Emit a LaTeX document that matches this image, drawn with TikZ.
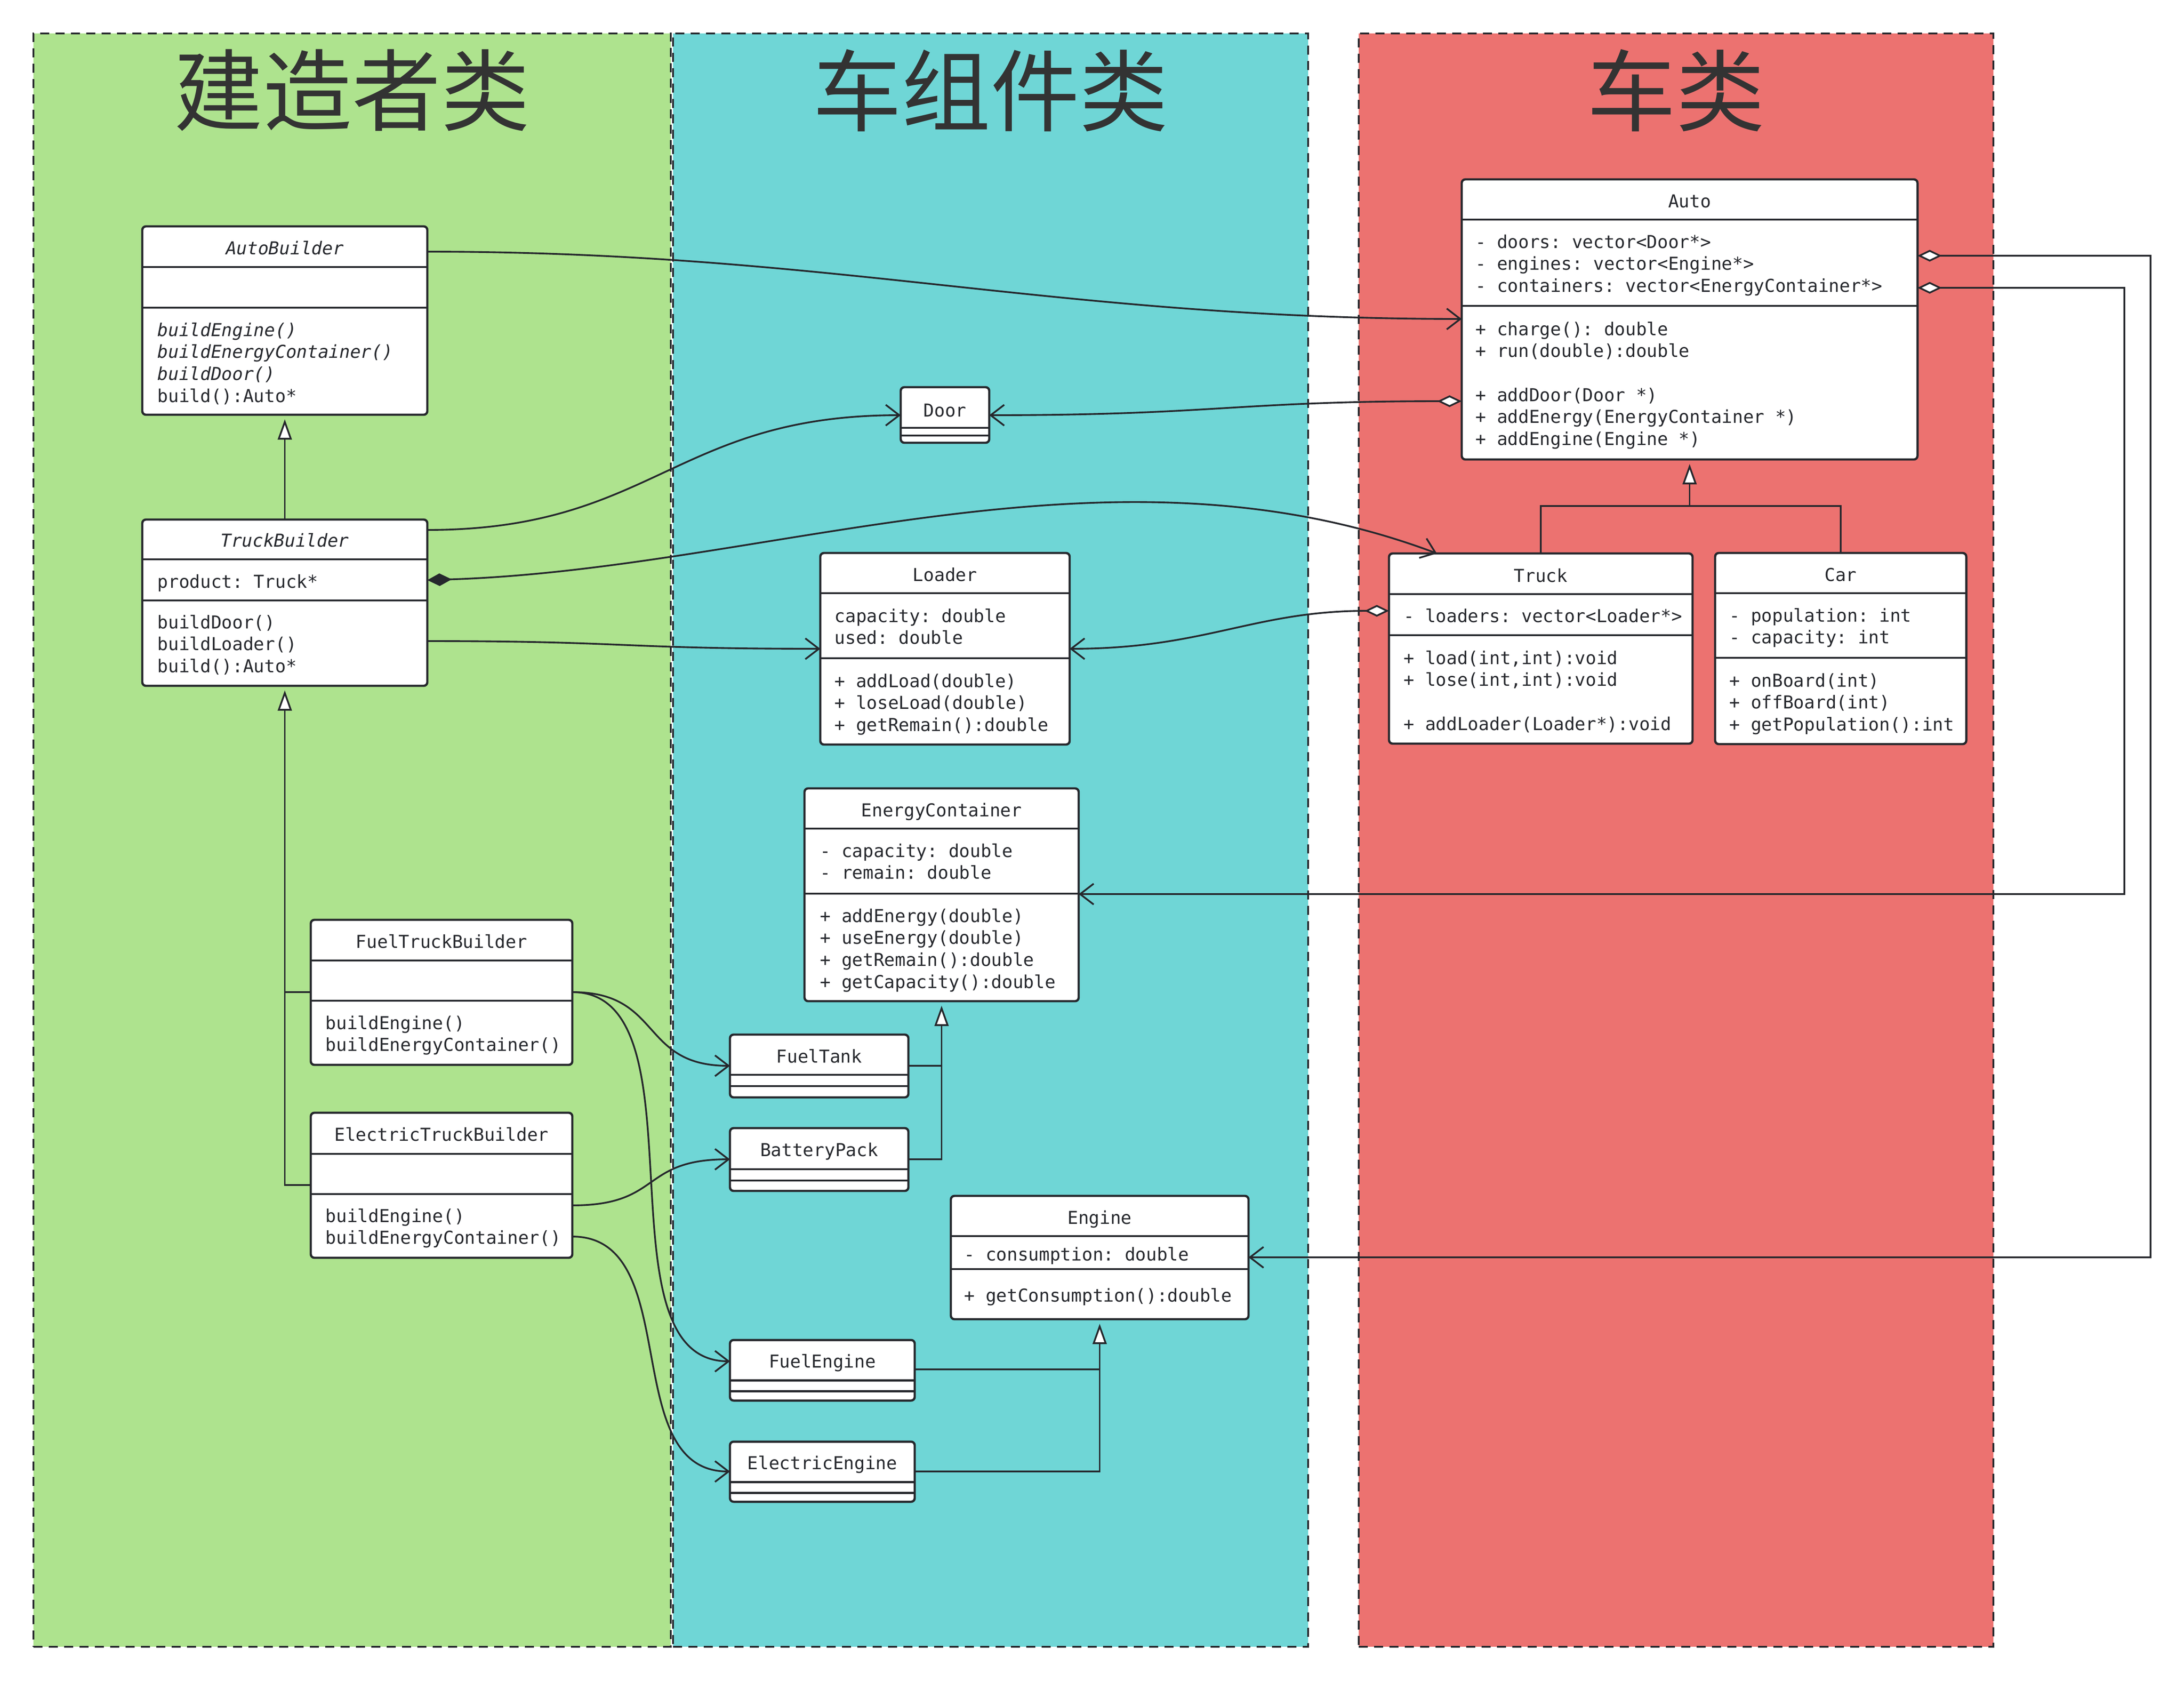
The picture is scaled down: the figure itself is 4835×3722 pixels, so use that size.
\documentclass[tikz,border=0pt]{standalone}
\usepackage{fontspec}
\usepackage{tikz}
\usetikzlibrary{arrows.meta,fit}
\setmonofont{DejaVu Sans Mono}[ItalicFont={DejaVu Sans Mono Oblique}]
\newfontfamily\cjkfont{Noto Sans CJK SC}
\definecolor{ink}{RGB}{38,40,45}
\definecolor{titleink}{RGB}{51,51,51}
\definecolor{buildgreen}{RGB}{174,227,142}
\definecolor{partcyan}{RGB}{111,214,214}
\definecolor{autored}{RGB}{236,114,112}
\newcommand{\umlfont}{\ttfamily\fontsize{11.2}{13.9}\selectfont}
% box, two dividers, title
\newcommand{\umlclass}[7]{%
  \node[classbox, fit={(#2) (#3)}] (#1) {};
  \draw[divider] (#1.west |- 0,#4) -- (#1.east |- 0,#4) (#1.west |- 0,#5) -- (#1.east |- 0,#5);
  \node[ctitle] (#1-t) at (#1.north |- 0,#6) {#7};}
% one text line per item
\newcommand{\members}[4]{%
  \foreach \ln [count=\k from 0] in {#4}
    \node[member] (#1\k) at (#2,#3+\k*48.7) {\ln};}

\begin{document}
\begin{tikzpicture}[x=0.1mm, y=-0.1mm,
    panel/.style={draw=ink, dash pattern=on 2mm off 1.4mm, line width=1.1pt, inner sep=0, outer sep=0},
    ptitle/.style={font=\cjkfont\fontsize{56}{60}\selectfont, text=titleink},
    classbox/.style={draw=ink, fill=white, line width=1.4pt, rounded corners=0.8mm, inner sep=0, outer sep=0},
    divider/.style={draw=ink, line width=1.4pt},
    ctitle/.style={font=\umlfont, text=ink, anchor=base},
    member/.style={font=\umlfont, text=ink, anchor=base west, inner sep=0},
    link/.style={draw=ink, line width=1.1pt},
    assoc/.style={link, -{Straight Barb[length=3mm, width=4.6mm]}},
    aggr/.style={link, {Straight Barb[length=3mm, width=4.6mm]}-{Diamond[open, fill=white, length=5.4mm, width=2.6mm]}},
    compo/.style={link, {Diamond[length=5.4mm, width=2.8mm]}-{Straight Barb[length=3mm, width=4.6mm]}},
    inherit/.style={link, -{Triangle[open, fill=white, length=4.5mm, width=3.1mm]}, shorten >=1mm}]
\path[use as bounding box, fill=white] (0,0) rectangle (4835,3722);

% panels
\node[panel, fill=buildgreen, fit={(74,74) (1485,3645)}] (buildp) {};
\node[panel, fill=partcyan, fit={(1490,74) (2896,3645)}] (partp) {};
\node[panel, fill=autored, fit={(3008,74) (4413,3645)}] (autop) {};
\node[ptitle] (buildt) at (buildp.north |- 0,200) {建造者类};
\node[ptitle] (partt) at (partp.north |- 0,200) {车组件类};
\node[ptitle] (autot) at (autop.north |- 0,200) {车类};

% builders
\umlclass{autob}{315,501}{946,918}{591}{681}{563}{\itshape AutoBuilder}
\members{autob-m}{348}{744}{{\itshape buildEngine()},{\itshape buildEnergyContainer()},{\itshape buildDoor()},build():Auto*}
\umlclass{truckb}{315,1150}{946,1518}{1238}{1329}{1210}{\itshape TruckBuilder}
\members{truckb-a}{348}{1301}{product: Truck*}
\members{truckb-m}{348}{1391}{buildDoor(),buildLoader(),build():Auto*}
\umlclass{fueltb}{688,2036}{1267,2357}{2126}{2215}{2098}{FuelTruckBuilder}
\members{fueltb-m}{720}{2278}{buildEngine(),buildEnergyContainer()}
\umlclass{electb}{688,2463}{1267,2784}{2554}{2643}{2525}{ElectricTruckBuilder}
\members{electb-m}{720}{2705}{buildEngine(),buildEnergyContainer()}

% parts
\umlclass{door}{1994,857}{2190,980}{947}{964}{922}{Door}
\umlclass{loader}{1816,1224}{2368,1648}{1313}{1457}{1286}{Loader}
\members{loader-a}{1847}{1377}{capacity: double,used: double}
\members{loader-m}{1847}{1521}{+ addLoad(double),+ loseLoad(double),+ getRemain():double}
\umlclass{energyc}{1781,1745}{2388,2216}{1834}{1978}{1807}{EnergyContainer}
\members{energyc-a}{1815}{1897}{- capacity: double,- remain: double}
\members{energyc-m}{1815}{2041}{+ addEnergy(double),+ useEnergy(double),+ getRemain():double,+ getCapacity():double}
\umlclass{fueltank}{1616,2290}{2011,2429}{2379}{2404}{2352}{FuelTank}
\umlclass{battery}{1616,2497}{2011,2636}{2588}{2613}{2559}{BatteryPack}
\umlclass{engine}{2105,2647}{2764,2920}{2736}{2809}{2709}{Engine}
\members{engine-a}{2134}{2790}{- consumption: double}
\members{engine-m}{2134}{2881}{+ getConsumption():double}
\umlclass{fueleng}{1616,2966}{2025,3100}{3055}{3079}{3027}{FuelEngine}
\umlclass{eleceng}{1616,3191}{2025,3324}{3280}{3304}{3252}{ElectricEngine}

% cars
\umlclass{autoc}{3236,397}{4245,1017}{486}{677}{459}{Auto}
\members{autoc-a}{3266}{549}{- doors: vector<Door*>,- engines: vector<Engine*>,- containers: vector<EnergyContainer*>}
\members{autoc-m}{3266}{742}{+ charge(): double,+ run(double):double,{},+ addDoor(Door *),+ addEnergy(EnergyContainer *),+ addEngine(Engine *)}
\umlclass{truck}{3075,1225}{3747,1646}{1315}{1406}{1288}{Truck}
\members{truck-a}{3107}{1377}{- loaders: vector<Loader*>}
\members{truck-m}{3107}{1470}{{+ load(int,int):void},{+ lose(int,int):void},{},+ addLoader(Loader*):void}
\umlclass{car}{3797,1224}{4353,1647}{1313}{1456}{1286}{Car}
\members{car-a}{3828}{1376}{- population: int,- capacity: int}
\members{car-m}{3828}{1520}{+ onBoard(int),+ offBoard(int),+ getPopulation():int}

% associations
\draw[assoc] (autob.east |- 0,557) .. controls +(900,0) and +(-900,0) .. (autoc.west |- 0,706);
\draw[assoc] (truckb.east |- 0,1173) .. controls +(500,0) and +(-500,0) .. (door.west |- 0,919);
\draw[assoc] (truckb.east |- 0,1419) .. controls +(450,0) and +(-450,0) .. (loader.west |- 0,1436);
\draw[compo] (truckb.east |- 0,1284) .. controls +(754,-24) and +(-731,-275) .. (truck.north -| 3181,0);
\draw[aggr] (door.east |- 0,919) .. controls +(500,0) and +(-500,0) .. (autoc.west |- 0,888);
\draw[aggr] (loader.east |- 0,1436) .. controls +(300,0) and +(-300,0) .. (truck.west |- 0,1352);
\draw[aggr] (energyc.east |- 0,1979) -| (4703,637) -- (autoc.east |- 0,637);
\draw[aggr] (engine.east |- 0,2783) -| (4761,566) -- (autoc.east |- 0,566);
\draw[assoc] (fueltb.east |- 0,2196) .. controls +(200,0) and +(-200,0) .. (fueltank.west |- 0,2359);
\draw[assoc] (fueltb.east |- 0,2196) .. controls +(300,0) and +(-300,0) .. (fueleng.west |- 0,3013);
\draw[assoc] (electb.east |- 0,2668) .. controls +(200,0) and +(-200,0) .. (battery.west |- 0,2566);
\draw[assoc] (electb.east |- 0,2737) .. controls +(250,0) and +(-250,0) .. (eleceng.west |- 0,3257);

% inheritance
\draw[inherit] (truckb.north) -- (autob.south);
\draw[link] (fueltb.west |- 0,2196) -- (truckb.south |- 0,2196);
\draw[inherit] (electb.west |- 0,2623) -| (truckb.south);
\draw[link] (fueltank.east |- 0,2359) -- (energyc.south |- 0,2359);
\draw[inherit] (battery.east |- 0,2566) -| (energyc.south);
\draw[link] (fueleng.east |- 0,3031) -- (engine.south |- 0,3031);
\draw[inherit] (eleceng.east |- 0,3257) -| (engine.south);
\coordinate (autojoin) at (autoc.south |- 0,1120);
\draw[link] (truck.north) |- (autojoin) -| (car.north);
\draw[inherit] (autojoin) -- (autoc.south);
\end{tikzpicture}
\end{document}
